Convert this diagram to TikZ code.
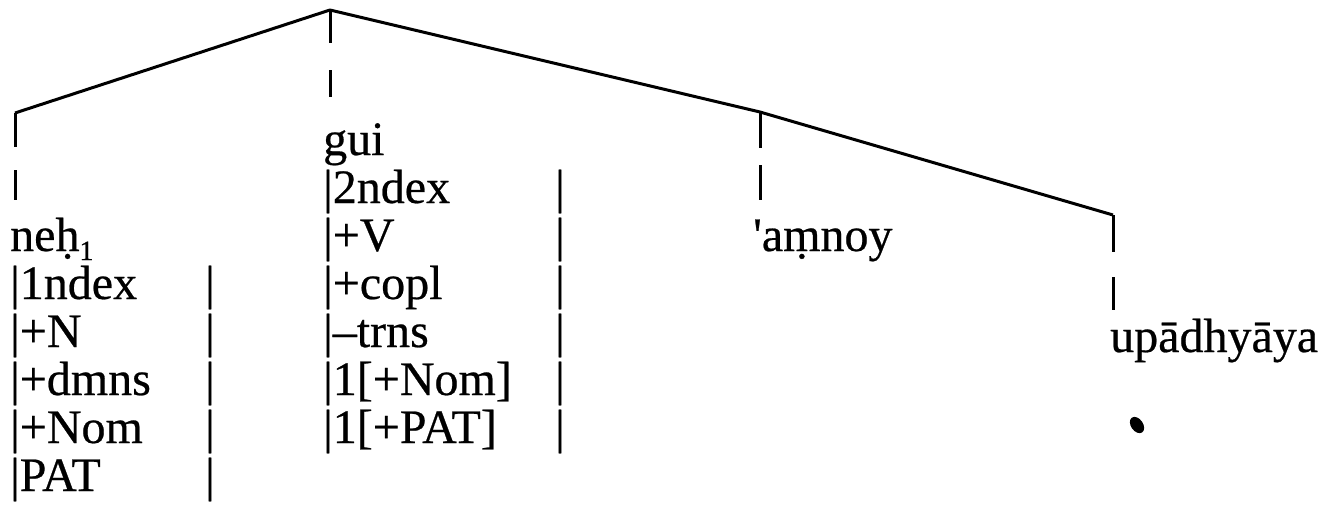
\documentclass[tikz,border=0pt]{standalone}
\usepackage{fontspec}
\setmainfont{Liberation Serif}[FakeBold=0.5]
\begin{document}
\begin{tikzpicture}[x=1pt,y=-1pt,
  tree/.style={line width=3pt, line join=round},
  vbar/.style={line width=3pt},
  lbl/.style={anchor=base west, inner sep=0pt, font=\fontsize{48}{48}\selectfont}]
\useasboundingbox (0,0) rectangle (1341,525);
% tree skeleton
\coordinate (top) at (330,10);
\coordinate (bl) at (15,113);
\coordinate (br1) at (760,112);
\coordinate (br2) at (1113,215);
\draw[tree] (bl) -- (top) -- (br1) -- (br2);
% dashed drops
\coordinate (bla) at (15,147); \coordinate (blb) at (15,170); \coordinate (blc) at (15,200);
\draw[vbar] (bl) -- (bla) (blb) -- (blc);
\coordinate (ta) at (330,43); \coordinate (tb) at (330,70); \coordinate (tc) at (330,97);
\draw[vbar] (top) -- (ta) (tb) -- (tc);
\coordinate (r1a) at (760,148); \coordinate (r1b) at (760,165); \coordinate (r1c) at (760,200);
\draw[vbar] (br1) -- (r1a) (r1b) -- (r1c);
\coordinate (r2a) at (1113,252); \coordinate (r2b) at (1113,277); \coordinate (r2c) at (1113,310);
\draw[vbar] (br2) -- (r2a) (r2b) -- (r2c);
% first column
\node[lbl] (neh) at (10,251) {neḥ\raisebox{-9pt}{\fontsize{28}{28}\selectfont 1}};
\node[lbl] (na) at (10,299) {|1ndex};
\node[lbl] (nb) at (10,347) {|+N};
\node[lbl] (nc) at (10,395) {|+dmns};
\node[lbl] (nd) at (10,443) {|+Nom};
\node[lbl] (ne) at (10,491) {|PAT};
\node[lbl] (xa) at (205,299) {|};
\node[lbl] (xb) at (205,347) {|};
\node[lbl] (xc) at (205,395) {|};
\node[lbl] (xd) at (205,443) {|};
\node[lbl] (xe) at (205,491) {|};
% second column
\node[lbl] (gui) at (323,155) {gui};
\node[lbl] (ga) at (323,203) {|2ndex};
\node[lbl] (gb) at (323,251) {|+V};
\node[lbl] (gc) at (323,299) {|+copl};
\node[lbl] (gd) at (323,347) {|–trns};
\node[lbl] (ge) at (323,395) {|1[+Nom]};
\node[lbl] (gf) at (323,443) {|1[+PAT]};
\node[lbl] (ya) at (555,203) {|};
\node[lbl] (yb) at (555,251) {|};
\node[lbl] (yc) at (555,299) {|};
\node[lbl] (yd) at (555,347) {|};
\node[lbl] (ye) at (555,395) {|};
\node[lbl] (yf) at (555,443) {|};
% other leaves
\node[lbl] (amn) at (753,251) {\textquotesingle aṃnoy};
\node[lbl] (upa) at (1110,352) {upādhyāya};
\fill[rotate around={35:(1137,425)}] (1137,425) ellipse (6 and 9);
\end{tikzpicture}
\end{document}
